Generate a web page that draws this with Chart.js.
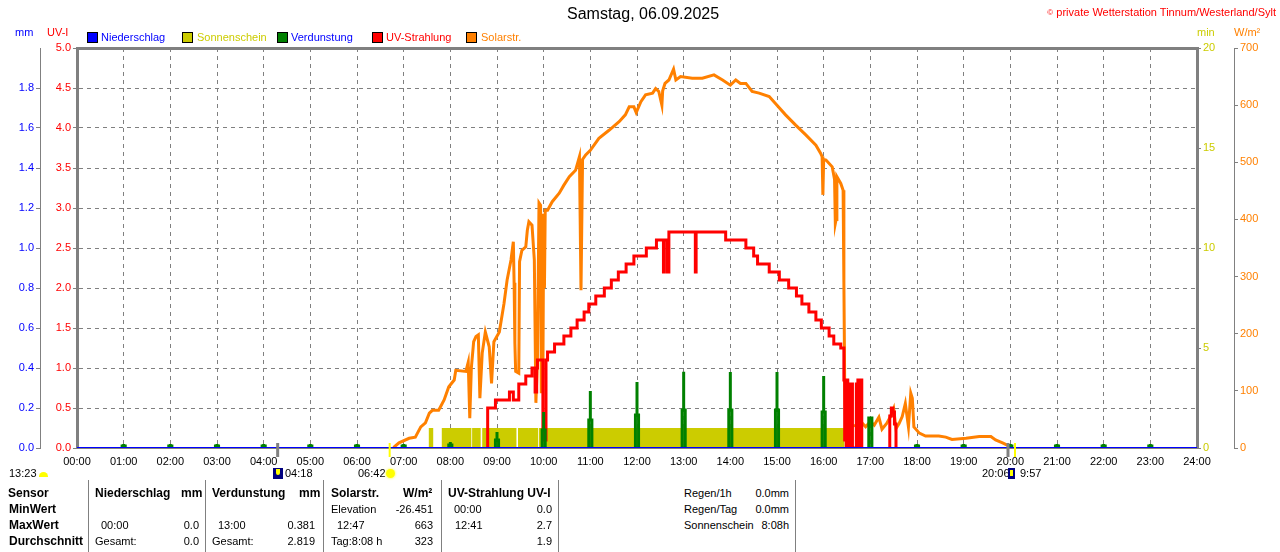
<!DOCTYPE html>
<html><head><meta charset="utf-8">
<script src="https://cdn.jsdelivr.net/npm/chart.js@4.4.1/dist/chart.umd.min.js"></script>
<style>
html,body{margin:0;padding:0;background:#fff;}
body{width:1280px;height:552px;position:relative;overflow:hidden;font-family:"Liberation Sans",Arial,sans-serif;}
#wrap{position:absolute;left:0;top:0;width:1280px;height:480px;}
.t{position:absolute;white-space:nowrap;font-size:11px;line-height:13px;color:#000;}
.b{font-weight:bold;font-size:12px;line-height:14px;}
.r{text-align:right;width:100px;}
.box{position:absolute;top:32px;width:11px;height:11px;border:1px solid #000;box-sizing:border-box;}
.sep{position:absolute;top:480px;width:1px;height:72px;background:#808080;}
</style></head><body>
<div id="wrap"><canvas id="c" width="1280" height="480"></canvas></div>

<div class="t" style="left:567px;top:5px;font-size:16px;line-height:18px;">Samstag, 06.09.2025</div>
<div class="t" style="right:4px;top:6px;color:#FF0000;"><span style="font-size:8px;vertical-align:top;">©</span> private Wetterstation Tinnum/Westerland/Sylt</div>

<div class="t" style="left:15px;top:26px;color:#0000FF;">mm</div>
<div class="t" style="left:47px;top:26px;color:#FF0000;">UV-I</div>
<div class="t" style="left:1197px;top:26px;color:#CCCC00;">min</div>
<div class="t" style="left:1234px;top:26px;color:#FF8000;">W/m²</div>

<div class="box" style="left:87px;background:#0000FF"></div><div class="t" style="left:101px;top:31px;color:#0000FF">Niederschlag</div>
<div class="box" style="left:182px;background:#CCCC00"></div><div class="t" style="left:197px;top:31px;color:#CCCC00">Sonnenschein</div>
<div class="box" style="left:277px;background:#008000"></div><div class="t" style="left:291px;top:31px;color:#0000FF">Verdunstung</div>
<div class="box" style="left:372px;background:#FF0000"></div><div class="t" style="left:386px;top:31px;color:#FF0000">UV-Strahlung</div>
<div class="box" style="left:466px;background:#FF8000"></div><div class="t" style="left:481px;top:31px;color:#FF8000">Solarstr.</div>

<!-- sun / moon annotations -->
<div class="t" style="left:9px;top:467px;">13:23</div>
<div style="position:absolute;left:39px;top:472px;width:9px;height:5px;background:#FFFF00;border-radius:5px 5px 0 0;"></div>
<div style="position:absolute;left:273px;top:468px;width:10px;height:11px;background:#000080;"></div>
<div style="position:absolute;left:276px;top:469px;width:4px;height:6px;background:#FFFF00;border-radius:0 0 3px 3px;"></div>
<div class="t" style="left:285px;top:467px;">04:18</div>
<div class="t" style="left:358px;top:467px;">06:42</div>
<div style="position:absolute;left:386px;top:469px;width:9px;height:9px;background:#FFFF00;border-radius:50%;box-shadow:0 0 2px 1px #FFFF99;"></div>
<div class="t" style="left:982px;top:467px;">20:06</div>
<div style="position:absolute;left:1008px;top:468px;width:7px;height:11px;background:#000080;"></div>
<div style="position:absolute;left:1010px;top:470px;width:3px;height:6px;background:#FFFF00;"></div>
<div class="t" style="left:1020px;top:467px;">9:57</div>

<!-- footer table -->
<div class="sep" style="left:88px"></div>
<div class="sep" style="left:205px"></div>
<div class="sep" style="left:323px"></div>
<div class="sep" style="left:441px"></div>
<div class="sep" style="left:558px"></div>
<div class="sep" style="left:795px"></div>

<div class="t b" style="left:8px;top:486px;">Sensor</div>
<div class="t b" style="left:95px;top:486px;">Niederschlag</div>
<div class="t b" style="left:181px;top:486px;">mm</div>
<div class="t b" style="left:212px;top:486px;">Verdunstung</div>
<div class="t b" style="left:299px;top:486px;">mm</div>
<div class="t b" style="left:331px;top:486px;">Solarstr.</div>
<div class="t b" style="left:403px;top:486px;">W/m²</div>
<div class="t b" style="left:448px;top:486px;">UV-Strahlung UV-I</div>

<div class="t b" style="left:9px;top:502px;">MinWert</div>
<div class="t" style="left:331px;top:503px;">Elevation</div>
<div class="t r" style="left:333px;top:503px;">-26.451</div>
<div class="t" style="left:454px;top:503px;">00:00</div>
<div class="t r" style="left:452px;top:503px;">0.0</div>

<div class="t b" style="left:9px;top:518px;">MaxWert</div>
<div class="t" style="left:101px;top:519px;">00:00</div>
<div class="t r" style="left:99px;top:519px;">0.0</div>
<div class="t" style="left:218px;top:519px;">13:00</div>
<div class="t r" style="left:215px;top:519px;">0.381</div>
<div class="t" style="left:337px;top:519px;">12:47</div>
<div class="t r" style="left:333px;top:519px;">663</div>
<div class="t" style="left:455px;top:519px;">12:41</div>
<div class="t r" style="left:452px;top:519px;">2.7</div>

<div class="t b" style="left:9px;top:534px;">Durchschnitt</div>
<div class="t" style="left:95px;top:535px;">Gesamt:</div>
<div class="t r" style="left:99px;top:535px;">0.0</div>
<div class="t" style="left:212px;top:535px;">Gesamt:</div>
<div class="t r" style="left:215px;top:535px;">2.819</div>
<div class="t" style="left:331px;top:535px;">Tag:8:08 h</div>
<div class="t r" style="left:333px;top:535px;">323</div>
<div class="t r" style="left:452px;top:535px;">1.9</div>

<div class="t" style="left:684px;top:487px;">Regen/1h</div>
<div class="t r" style="left:689px;top:487px;">0.0mm</div>
<div class="t" style="left:684px;top:503px;">Regen/Tag</div>
<div class="t r" style="left:689px;top:503px;">0.0mm</div>
<div class="t" style="left:684px;top:519px;">Sonnenschein</div>
<div class="t r" style="left:689px;top:519px;">8:08h</div>

<script>
// ---------- data ----------
const hourLabels = ["00:00","01:00","02:00","03:00","04:00","05:00","06:00","07:00","08:00","09:00","10:00","11:00","12:00",
  "13:00","14:00","15:00","16:00","17:00","18:00","19:00","20:00","21:00","22:00","23:00","24:00"];

const niederschlagValues = [0,0,0,0,0,0,0,0,0,0,0,0,0,0,0,0,0,0,0,0,0,0,0,0,0];

const solarTimes = ["06:47","06:48","06:54","07:07","07:15","07:22","07:28","07:33","07:37","07:45","07:52","07:58","08:05","08:07",
  "08:20","08:23","08:25","08:27","08:30","08:33","08:36","08:38","08:41","08:45","08:50","08:53","08:56","09:03","09:09","09:13",
  "09:18","09:21","09:22","09:23","09:24","09:28","09:29","09:32","09:37","09:39","09:41","09:45","09:48","09:50","09:52","09:54",
  "09:56","09:57","09:58","09:59","10:00","10:01","10:02","10:05","10:11","10:20","10:26","10:33","10:41","10:46","10:48","10:50",
  "10:54","11:00","11:11","11:24","11:37","11:45","11:50","11:56","11:59","12:05","12:11","12:20","12:24","12:28","12:32","12:33",
  "12:36","12:41","12:47","12:50","12:56","13:11","13:24","13:39","13:50","14:00","14:07","14:13","14:20","14:28","14:37","14:50",
  "15:00","15:11","15:24","15:37","15:50","15:56","15:58","15:59","16:00","16:03","16:11","16:14","16:15","16:16","16:17","16:22",
  "16:25","16:26","16:27","16:28","16:32","16:43","16:50","16:54","17:00","17:05","17:11","17:15","17:21","17:26","17:30","17:33",
  "17:37","17:41","17:45","17:49","17:52","17:54","17:56","18:03","18:11","18:28","18:37","18:45","19:03","19:20","19:35","19:41",
  "19:50","19:56","20:00","20:01"];
const solarValues = [0,2,9,17,19,37,44,61,66,66,84,107,119,136,
  134,150,52,140,186,195,198,87,166,203,177,113,186,203,253,294,
  329,361,289,183,134,131,326,346,352,381,396,390,329,79,154,429,
  425,96,410,120,400,280,416,416,431,446,460,475,486,510,276,505,
  513,521,542,556,571,583,597,597,587,606,618,621,629,624,600,625,
  638,644,663,644,650,647,647,653,644,635,644,638,638,624,621,615,
  600,583,565,548,530,516,510,443,505,504,492,470,393,400,475,463,
  451,290,120,55,37,40,43,37,46,40,54,33,43,55,69,34,
  43,55,78,37,96,87,37,26,21,21,19,15,17,20,20,14,
  9,5,2,0];

const uvTimes = ["08:47","08:48","08:58","09:16","09:21","09:28","09:37","09:45","09:49","09:51","09:52","09:59","10:03","10:05","10:14",
  "10:26","10:35","10:43","10:52","10:58","11:07","11:18","11:27","11:36","11:46","11:56","12:12","12:25","12:34","12:35","12:39",
  "12:41","13:15","13:16","13:54","14:20","14:30","14:35","14:50","15:03","15:15","15:25","15:32","15:41","15:50","15:57","16:07",
  "16:13","16:22","16:26","16:27","16:28","16:29","16:30","16:31","16:32","16:33","16:34","16:35","16:36","16:37","16:42","16:43",
  "16:44","16:45","16:46","16:47","16:48","16:49","16:50","17:24","17:25","17:27","17:29","17:31","17:33"];
const uvValues = [0,0.5,0.6,0.7,0.6,0.8,0.9,1.0,0.7,1.0,1.1,0.1,1.1,1.2,1.3,
  1.4,1.5,1.6,1.7,1.8,1.9,2.0,2.1,2.2,2.3,2.4,2.5,2.6,2.2,2.6,2.2,
  2.7,2.2,2.7,2.6,2.5,2.4,2.3,2.2,2.1,2.0,1.9,1.8,1.7,1.6,1.5,1.4,
  1.3,1.25,0.85,0.1,0.8,0.0,0.85,0.2,0.8,0.0,0.75,0.05,0.8,0.0,0.8,0.1,
  0.85,0.0,0.8,0.1,0.85,0.0,null,0,0.4,0.5,0.45,0.3,0];

const evapHours = ["01:00","02:00","03:00","04:00","05:00","06:00","07:00","08:00","09:00","10:00","11:00","12:00",
  "13:00","14:00","15:00","16:00","17:00","18:00","19:00","20:00","21:00","22:00","23:00"];
const evapPeak = [0.02,0.02,0.02,0.02,0.02,0.02,0.02,0.03,0.08,0.18,0.285,0.33,0.381,0.38,0.38,0.36,0.155,0.02,0.02,0.02,0.02,0.02,0.02];
const evapLow  = [0.01,0.01,0.01,0.01,0.01,0.01,0.01,0.015,0.04,0.09,0.14,0.165,0.19,0.19,0.19,0.18,0.15,0.01,0.01,0.01,0.01,0.01,0.01];

const sunStart = ["07:32","07:49","08:28","08:41","09:27","09:54"];
const sunEnd   = ["07:38","08:27","08:39","09:25","09:53","16:27"];

const markTimes  = ["04:18","06:42","19:57","20:06"];
const markColors = ["#808080","#FFFF00","#808080","#FFFF00"];

// ---------- helpers ----------
const toMin = s => { const p = s.split(':'); return (+p[0]) * 60 + (+p[1]); };

const niederschlagData = niederschlagValues.map((v, i) => ({x: toMin(hourLabels[i]), y: v}));
const solarData = solarTimes.map((t, i) => ({x: toMin(t), y: solarValues[i]}));
const uvData = uvTimes.map((t, i) => ({x: toMin(t), y: uvValues[i]}));
const evapData = [];
evapHours.forEach((h, i) => {
  const t = toMin(h), lo = evapLow[i], pk = evapPeak[i];
  evapData.push({x: t - 2, y: 0}, {x: t - 2, y: lo}, {x: t, y: lo}, {x: t, y: pk},
                {x: t, y: lo}, {x: t + 2, y: lo}, {x: t + 2, y: 0}, {x: t + 3, y: null});
});
const sunData = [];
sunStart.forEach((s, i) => {
  const a = toMin(s), b = toMin(sunEnd[i]);
  sunData.push({x: a, y: 0}, {x: a, y: 1}, {x: b, y: 1}, {x: b, y: 0});
});

const FONT = '"Liberation Sans", Arial, sans-serif';
Chart.defaults.font.family = FONT;
Chart.defaults.font.size = 11;

const marksPlugin = {
  id: 'marks',
  afterDatasetsDraw(chart) {
    const {ctx, chartArea} = chart;
    const xs = chart.scales.x;
    markTimes.forEach((t, i) => {
      const px = xs.getPixelForValue(toMin(t));
      ctx.save();
      ctx.strokeStyle = markColors[i];
      ctx.lineWidth = markColors[i] === '#808080' ? 3 : 2;
      ctx.beginPath();
      ctx.moveTo(px, chartArea.bottom - 5);
      ctx.lineTo(px, chartArea.bottom + 9);
      ctx.stroke();
      ctx.restore();
    });
  }
};

const GRID = '#808080';
const hideTop = (ctx) => (ctx.tick && ctx.tick.value >= 1.999) ? 'rgba(0,0,0,0)' : GRID;

new Chart(document.getElementById('c'), {
  type: 'line',
  data: {
    datasets: [
      {label: 'Niederschlag', data: niederschlagData, yAxisID: 'yMM', borderColor: '#0000FF', borderWidth: 2, order: 0},
      {label: 'Verdunstung', data: evapData, yAxisID: 'yMM', borderColor: '#008000', borderWidth: 3, order: 1, spanGaps: false},
      {label: 'UV-Strahlung', data: uvData, yAxisID: 'yUV', borderColor: '#FF0000', borderWidth: 3, stepped: true, order: 2, spanGaps: false},
      {label: 'Solarstr.', data: solarData, yAxisID: 'yW', borderColor: '#FF8000', borderWidth: 3, order: 3},
      {label: 'Sonnenschein', data: sunData, yAxisID: 'yMin', borderWidth: 0, borderColor: 'rgba(0,0,0,0)',
       backgroundColor: '#CCCC00', fill: 'origin', order: 5}
    ]
  },
  options: {
    responsive: false,
    animation: false,
    parsing: true,
    layout: {padding: {top: 48, left: 0, right: 0, bottom: 0}},
    elements: {point: {radius: 0, hoverRadius: 0}, line: {tension: 0, borderCapStyle: 'butt', borderJoinStyle: 'miter'}},
    plugins: {legend: {display: false}, title: {display: false}, tooltip: {enabled: false}},
    events: [],
    scales: {
      x: {
        type: 'linear', position: 'bottom', min: 0, max: 1440,
        ticks: {stepSize: 60, autoSkip: false, maxRotation: 0, color: '#000', padding: 7,
                callback: v => hourLabels[Math.round(v / 60)]},
        grid: {color: GRID, lineWidth: 1, drawTicks: false},
        border: {display: true, color: GRID, width: 2, dash: [4, 4]},
        afterFit: s => { s.height = 32; }
      },
      xTop: {
        type: 'linear', position: 'top', min: 0, max: 1440,
        ticks: {display: false},
        grid: {drawOnChartArea: false, drawTicks: false},
        border: {display: true, color: GRID, width: 3},
        afterFit: s => { s.height = 0; }
      },
      yUV: {
        type: 'linear', position: 'left', weight: 0, min: 0, max: 5,
        ticks: {stepSize: 0.5, color: '#FF0000', padding: 2, callback: v => v.toFixed(1)},
        grid: {color: GRID, lineWidth: 1, drawTicks: true, tickLength: 4},
        border: {display: true, color: GRID, width: 3, dash: [4, 4]},
        afterFit: s => { s.width = 37; }
      },
      yMM: {
        type: 'linear', position: 'left', weight: 1, min: 0, max: 2,
        ticks: {stepSize: 0.2, color: '#0000FF', padding: 2, callback: v => v >= 1.999 ? '' : v.toFixed(1)},
        grid: {drawOnChartArea: false, drawTicks: true, tickLength: 4, color: hideTop},
        border: {display: true, color: GRID, width: 1},
        afterFit: s => { s.width = 40; }
      },
      yMin: {
        type: 'linear', position: 'right', weight: 0, min: 0, max: 20,
        ticks: {stepSize: 5, color: '#CCCC00', padding: 2},
        grid: {drawOnChartArea: false, drawTicks: true, tickLength: 4, color: GRID},
        border: {display: true, color: GRID, width: 3},
        afterFit: s => { s.width = 37; }
      },
      yW: {
        type: 'linear', position: 'right', weight: 1, min: 0, max: 700,
        ticks: {stepSize: 100, color: '#FF8000', padding: 2},
        grid: {drawOnChartArea: false, drawTicks: true, tickLength: 4, color: GRID},
        border: {display: true, color: GRID, width: 1},
        afterFit: s => { s.width = 46; }
      }
    }
  },
  plugins: [marksPlugin]
});
</script>
</body></html>
